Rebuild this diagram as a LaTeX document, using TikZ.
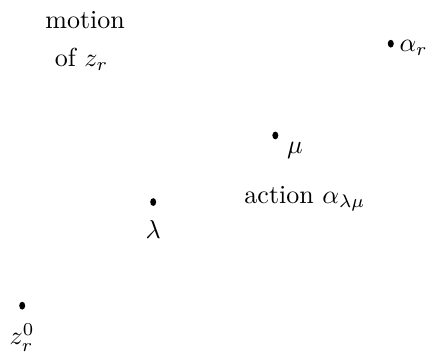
\documentclass[tikz,border=0pt]{standalone}
\usetikzlibrary{positioning,shapes.geometric}
\begin{document}
\begin{tikzpicture}[every node/.style={font=\normalsize}]
\tikzset{pt/.style={ellipse,fill=black,inner sep=0pt,minimum width=2.3pt,minimum height=3pt}}
\useasboundingbox (0,0) rectangle (5.81,4.79);
% caption at top left
\node (mot) at (1.15,4.52) {motion};
\node (ofz) at (1.10,3.99) {of $z_r$};
% points
\node[pt] (alr) at (5.28,4.20) {};
\node[pt] (mu) at (3.72,2.96) {};
\node[pt] (lam) at (2.07,2.06) {};
\node[pt] (zr) at (0.30,0.66) {};
% point labels
\node[right=-1.5pt of alr, yshift=-1.5pt] (alrl) {$\alpha_r$};
\node[below right=-2pt and 0pt of mu] (mul) {$\mu$};
\node[below=2pt of lam] (laml) {$\lambda$};
\node[below=4pt of zr, inner sep=1pt] (zrl) {$z_r^0$};
\node (act) at (4.12,2.10) {action $\alpha_{\lambda\mu}$};
\end{tikzpicture}
\end{document}
